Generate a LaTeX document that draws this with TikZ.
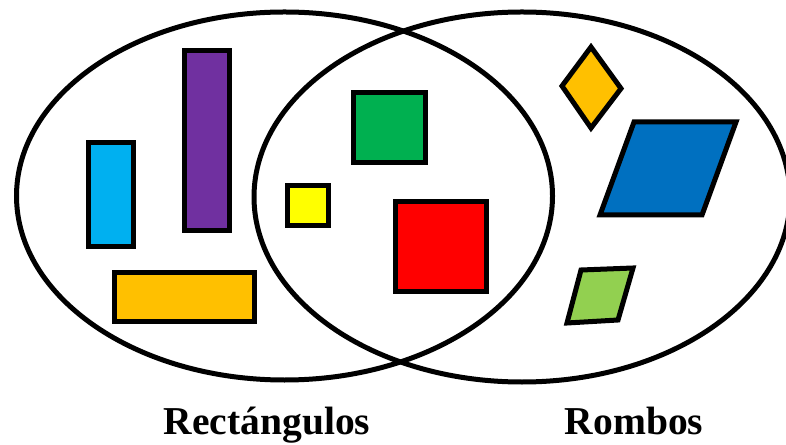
\documentclass[tikz,border=0pt]{standalone}
\usepackage{fontspec}
\setmainfont{Liberation Serif}
\definecolor{cyanbox}{HTML}{00B0F0}
\definecolor{purplebox}{HTML}{7030A0}
\definecolor{orangebox}{HTML}{FFC000}
\definecolor{greenbox}{HTML}{00B050}
\definecolor{yellowbox}{HTML}{FFFF00}
\definecolor{redbox}{HTML}{FF0000}
\definecolor{bluebox}{HTML}{0070C0}
\definecolor{limebox}{HTML}{92D050}
\tikzset{
  piece/.style={draw=black,line width=5*0.02cm},
  setline/.style={draw=black,line width=5*0.02cm},
  setname/.style={font=\bfseries\fontsize{22.5}{26}\selectfont,anchor=base}
}
\begin{document}
\begin{tikzpicture}[x=0.02cm,y=-0.02cm]
  \useasboundingbox (0,0) rectangle (786,445);
  \clip (0,0) rectangle (786,445);
  % the two sets
  \draw[setline] (284.5,196) ellipse [x radius=268,y radius=184];
  \draw[setline] (522,197) ellipse [x radius=268,y radius=185];
  % rectangles only
  \draw[piece,fill=cyanbox] (88.5,142.5) rectangle (133.5,246.5);
  \draw[piece,fill=purplebox] (184.5,51) rectangle (229.5,230.5);
  \draw[piece,fill=orangebox] (114.5,272.5) rectangle (254.5,321.5);
  % squares: both sets
  \draw[piece,fill=yellowbox] (287.5,185.5) rectangle (328.5,225.5);
  \draw[piece,fill=greenbox] (353.5,92.5) rectangle (425.5,162.5);
  \draw[piece,fill=redbox] (395.5,201.5) rectangle (486.5,291.5);
  % rhombi only
  \draw[piece,fill=orangebox] (591,47)--(621,88.5)--(591,128)--(562,86)--cycle;
  \draw[piece,fill=bluebox] (634,122)--(736,122)--(702,215)--(600,215)--cycle;
  \draw[piece,fill=limebox] (581,270)--(633,268)--(618,320)--(567,323)--cycle;
  % labels
  \node[setname] (rect) at (267,434) {Rectángulos};
  \node[setname] (romb) at (634,434) {Rombos};
\end{tikzpicture}
\end{document}
